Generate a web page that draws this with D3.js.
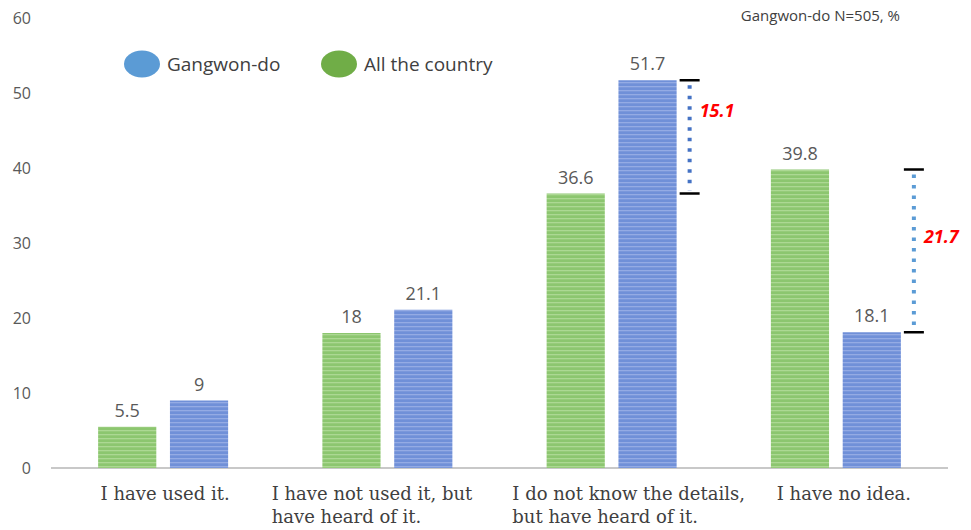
<!DOCTYPE html>
<html>
<head>
<meta charset="utf-8">
<script src="https://cdn.jsdelivr.net/npm/d3@7"></script>
<style>
  body { margin: 0; background: #fff; }
  svg { display: block; }
</style>
</head>
<body>
<div id="chart"></div>
<script>
// Awareness survey: Gangwon-do vs. the whole country (%)

var categories = [
    ["I have used it."],
    ["I have not used it, but", "have heard of it."],
    ["I do not know the details,", "but have heard of it."],
    ["I have no idea."]
];
var seriesNames = ["All the country", "Gangwon-do"];
var countryValues = [5.5, 18, 36.6, 39.8];
var gangwonValues = [9, 21.1, 51.7, 18.1];
var yTicks = [0, 10, 20, 30, 40, 50, 60];
var legendOrder = ["Gangwon-do", "All the country"];

// gap markers: category index, from, to, label, where the label sits (value units)
var gapCats = [2, 3];
var gapFrom = [51.7, 39.8];
var gapTo = [36.6, 18.1];
var gapLabels = ["15.1", "21.7"];
var gapLabelAt = [47.4, 30.6];

// layout
var width = 971, height = 530;
var labelShift = [2, -15, 17, 8];   // category label blocks sit a little off-centre
var colors = {
    "All the country": { base: "#8cc66f", stripe: "#acd893", legend: "#70ad47" },
    "Gangwon-do": { base: "#7090d8", stripe: "#94abe4", legend: "#5b9bd5" }
};
var gapColors = ["#4472c4", "#5b9bd5"];

var svg = d3.select("#chart").append("svg")
    .attr("width", width)
    .attr("height", height);

// striped fills
var defs = svg.append("defs");
seriesNames.forEach(function(name, i) {
    var p = defs.append("pattern")
        .attr("id", "stripe" + i)
        .attr("patternUnits", "userSpaceOnUse")
        .attr("width", 8)
        .attr("height", 4);
    p.append("rect").attr("width", 8).attr("height", 4).attr("fill", colors[name].base);
    p.append("rect").attr("y", 2).attr("width", 8).attr("height", 1.3).attr("fill", colors[name].stripe);
});

var y = d3.scaleLinear().domain([0, 60]).range([468, 18]);
var x = d3.scaleBand().domain(d3.range(categories.length)).range([51, 948]);
var xs = d3.scaleBand().domain(seriesNames).range([-65, 65]).paddingInner(0.19);

// y axis labels
var yAxis = svg.append("g")
    .attr("transform", "translate(31,0)")
    .call(d3.axisLeft(y).tickValues(yTicks).tickSize(0).tickPadding(0));
yAxis.select(".domain").remove();
yAxis.selectAll("text")
    .style("font", "16px 'Open Sans', sans-serif")
    .attr("fill", "#595959");

// baseline
svg.append("line")
    .attr("x1", x.range()[0]).attr("x2", x.range()[1])
    .attr("y1", y(0)).attr("y2", y(0))
    .attr("stroke", "#c8c8c8")
    .attr("stroke-width", 2);

// bars
var allValues = [countryValues, gangwonValues];
seriesNames.forEach(function(name, s) {
    var g = svg.append("g");
    allValues[s].forEach(function(v, i) {
        var cx = x(i) + x.bandwidth() / 2;
        g.append("rect")
            .attr("x", cx + xs(name))
            .attr("y", y(v))
            .attr("width", xs.bandwidth())
            .attr("height", y(0) - y(v))
            .attr("fill", "url(#stripe" + s + ")");
        g.append("text")
            .attr("x", cx + xs(name) + xs.bandwidth() / 2)
            .attr("y", y(v) - 10)
            .attr("text-anchor", "middle")
            .style("font", "18px 'Open Sans', sans-serif")
            .attr("fill", "#595959")
            .text(v);
    });
});

// category labels: left-aligned lines, block centred on the band
categories.forEach(function(lines, i) {
    var cx = x(i) + x.bandwidth() / 2 + labelShift[i];
    var t = svg.append("text")
        .style("font", "18px 'DejaVu Serif', serif")
        .attr("fill", "#404040");
    lines.forEach(function(line, j) {
        t.append("tspan")
            .attr("x", 0)
            .attr("y", 500 + j * 23)
            .text(line);
    });
    var w = t.node().getBBox().width;
    t.attr("transform", "translate(" + (cx - w / 2) + ",0)");
});

// gap markers
gapCats.forEach(function(c, k) {
    var lx = x(c) + x.bandwidth() / 2 + xs.range()[1] + 13;
    var g = svg.append("g");
    g.append("line")
        .attr("x1", lx).attr("x2", lx)
        .attr("y1", y(gapFrom[k]) + 5).attr("y2", y(gapTo[k]) - 3)
        .attr("stroke", gapColors[k])
        .attr("stroke-width", 4)
        .attr("stroke-dasharray", "3.5,7");
    [gapFrom[k], gapTo[k]].forEach(function(v) {
        g.append("line")
            .attr("x1", lx - 10).attr("x2", lx + 10)
            .attr("y1", y(v)).attr("y2", y(v))
            .attr("stroke", "#000")
            .attr("stroke-width", 2.5);
    });
    g.append("text")
        .attr("x", lx + 10)
        .attr("y", y(gapLabelAt[k]))
        .attr("dominant-baseline", "middle")
        .style("font", "italic bold 18px 'Open Sans', sans-serif")
        .attr("fill", "#ff0000")
        .text(gapLabels[k]);
});

// legend
var legendX = [142, 339];
legendOrder.forEach(function(name, i) {
    svg.append("ellipse")
        .attr("cx", legendX[i]).attr("cy", 64)
        .attr("rx", 18).attr("ry", 13.5)
        .attr("fill", colors[name].legend);
    svg.append("text")
        .attr("x", legendX[i] + 25).attr("y", 71)
        .style("font", "19px 'Open Sans', sans-serif")
        .attr("fill", "#404040")
        .text(name);
});

// note
svg.append("text")
    .attr("x", 900).attr("y", 21)
    .attr("text-anchor", "end")
    .style("font", "15px 'Open Sans', sans-serif")
    .attr("fill", "#404040")
    .text("Gangwon-do N=505, %");
</script>
</body>
</html>
